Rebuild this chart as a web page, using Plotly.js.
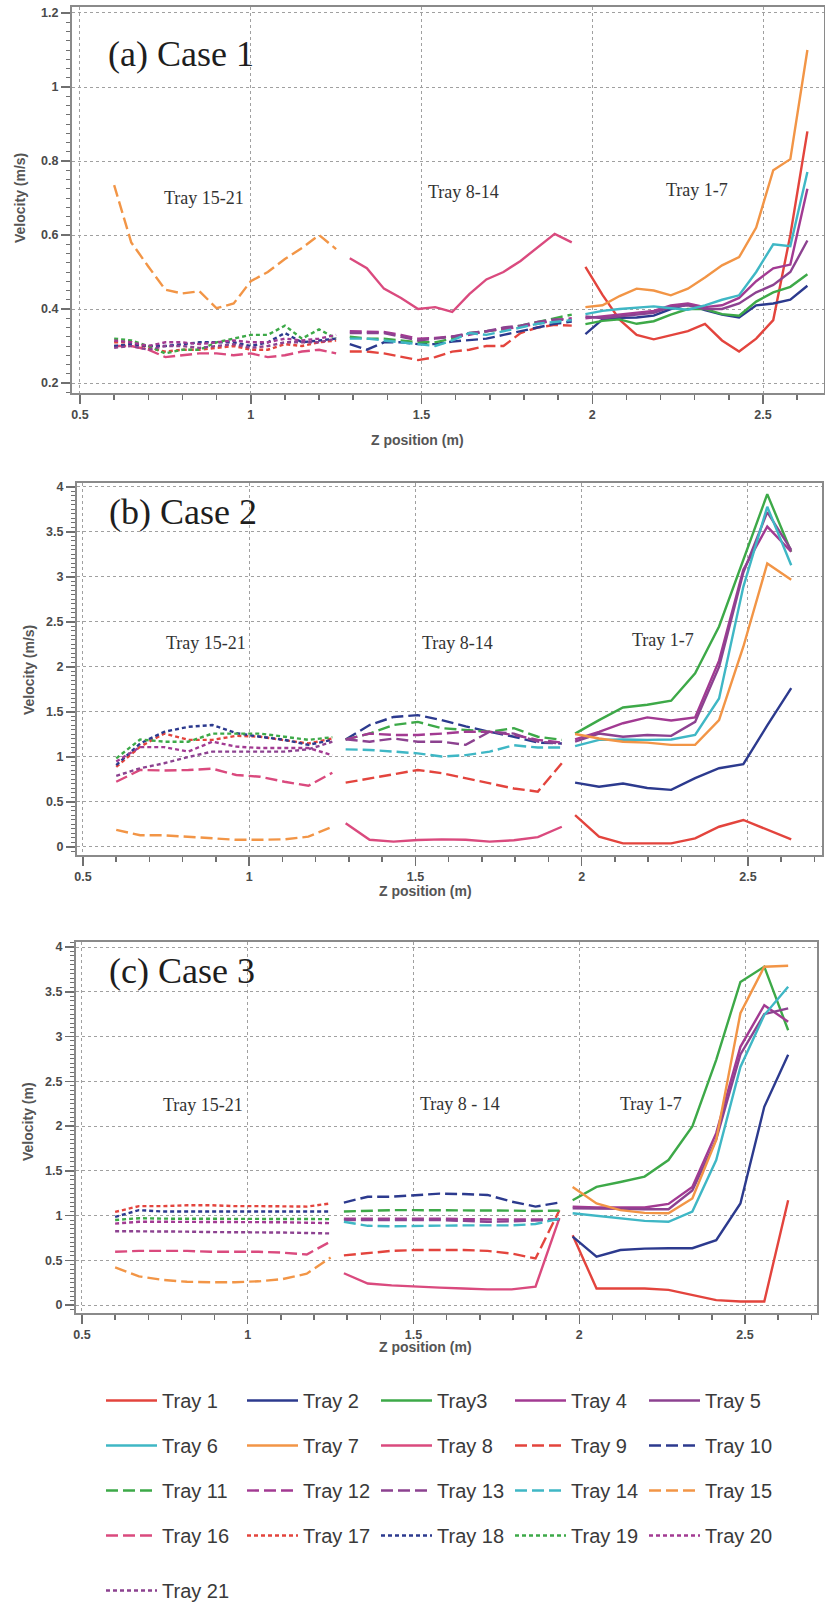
<!DOCTYPE html>
<html>
<head>
<meta charset="utf-8">
<script src="https://cdn.plot.ly/plotly-3.0.1.min.js"></script>
<style>html,body{margin:0;padding:0;background:#fff;}#chart{width:825px;height:1614px;}</style>
</head>
<body>
<div id="chart"></div>
<script>
// ---------- DATA ----------
// z positions (m) of the sampled points for each tray group
const zA1 = [0.60,0.65,0.70,0.75,0.80,0.85,0.90,0.95,1.00,1.05,1.10,1.15,1.20,1.25];
const zB1 = [1.29,1.34,1.39,1.44,1.49,1.54,1.59,1.64,1.69,1.74,1.79,1.84,1.89,1.94];
const zC1 = [1.98,2.03,2.08,2.13,2.18,2.23,2.28,2.33,2.38,2.43,2.48,2.53,2.58,2.63];
const zA = [0.60,0.672,0.744,0.817,0.889,0.961,1.033,1.106,1.178,1.25];
const zB = [1.29,1.362,1.434,1.507,1.579,1.651,1.723,1.796,1.868,1.94];
const zC = [1.98,2.052,2.124,2.197,2.269,2.341,2.413,2.486,2.558,2.63];

const trayNames = ['Tray 1','Tray 2','Tray3','Tray 4','Tray 5','Tray 6','Tray 7','Tray 8','Tray 9','Tray 10',
  'Tray 11','Tray 12','Tray 13','Tray 14','Tray 15','Tray 16','Tray 17','Tray 18','Tray 19','Tray 20','Tray 21'];

// Case 1 velocities (m/s)
const c1t1 = [0.514,0.438,0.371,0.33,0.318,0.33,0.34,0.36,0.315,0.285,0.32,0.37,0.60,0.88];
const c1t2 = [0.332,0.372,0.376,0.377,0.382,0.40,0.413,0.397,0.385,0.377,0.41,0.415,0.425,0.463];
const c1t3 = [0.359,0.368,0.372,0.36,0.367,0.385,0.40,0.40,0.386,0.382,0.42,0.445,0.46,0.494];
const c1t4 = [0.375,0.38,0.385,0.39,0.395,0.41,0.415,0.405,0.41,0.43,0.475,0.51,0.52,0.725];
const c1t5 = [0.38,0.375,0.38,0.385,0.39,0.405,0.41,0.40,0.40,0.415,0.445,0.465,0.50,0.585];
const c1t6 = [0.386,0.395,0.40,0.404,0.407,0.402,0.398,0.41,0.425,0.437,0.50,0.575,0.57,0.77];
const c1t7 = [0.405,0.41,0.435,0.455,0.45,0.437,0.455,0.485,0.518,0.54,0.62,0.775,0.805,1.10];
const c1t8 = [0.537,0.51,0.455,0.43,0.40,0.405,0.392,0.44,0.48,0.50,0.53,0.567,0.603,0.58];
const c1t9 = [0.285,0.285,0.28,0.27,0.262,0.27,0.285,0.29,0.30,0.30,0.335,0.35,0.357,0.355];
const c1t10 = [0.305,0.29,0.31,0.31,0.305,0.305,0.312,0.316,0.32,0.33,0.34,0.348,0.36,0.366];
const c1t11 = [0.325,0.32,0.32,0.315,0.31,0.31,0.32,0.335,0.34,0.345,0.355,0.365,0.375,0.385];
const c1t12 = [0.34,0.34,0.338,0.33,0.32,0.322,0.325,0.33,0.34,0.345,0.352,0.36,0.37,0.375];
const c1t13 = [0.335,0.335,0.335,0.325,0.315,0.32,0.325,0.335,0.34,0.35,0.355,0.365,0.372,0.37];
const c1t14 = [0.32,0.32,0.315,0.31,0.305,0.30,0.315,0.335,0.33,0.34,0.35,0.36,0.365,0.37];
const c1t15 = [0.735,0.58,0.515,0.452,0.442,0.448,0.402,0.415,0.475,0.50,0.535,0.565,0.60,0.562];
const c1t16 = [0.30,0.30,0.29,0.27,0.275,0.28,0.28,0.275,0.28,0.27,0.275,0.285,0.29,0.28];
const c1t17 = [0.31,0.31,0.295,0.285,0.29,0.29,0.295,0.30,0.29,0.29,0.305,0.30,0.31,0.315];
const c1t18 = [0.30,0.305,0.30,0.30,0.305,0.31,0.31,0.31,0.30,0.31,0.335,0.31,0.315,0.32];
const c1t19 = [0.32,0.315,0.30,0.28,0.29,0.29,0.31,0.32,0.33,0.33,0.355,0.32,0.345,0.32];
const c1t20 = [0.315,0.31,0.30,0.31,0.31,0.305,0.31,0.315,0.31,0.31,0.32,0.315,0.32,0.33];
const c1t21 = [0.295,0.30,0.29,0.30,0.30,0.295,0.30,0.305,0.295,0.30,0.31,0.31,0.31,0.32];

// Case 2 velocities (m/s)
const c2t1 = [0.355,0.115,0.04,0.04,0.04,0.095,0.225,0.30,0.19,0.085];
const c2t2 = [0.715,0.67,0.705,0.655,0.635,0.765,0.875,0.92,1.35,1.765];
const c2t3 = [1.26,1.41,1.55,1.58,1.625,1.93,2.45,3.2,3.92,3.28];
const c2t4 = [1.195,1.28,1.375,1.44,1.405,1.44,2.07,3.08,3.56,3.28];
const c2t5 = [1.17,1.26,1.225,1.245,1.235,1.39,2.0,3.05,3.72,3.3];
const c2t6 = [1.12,1.19,1.195,1.19,1.195,1.245,1.65,2.89,3.78,3.13];
const c2t7 = [1.255,1.205,1.17,1.16,1.135,1.135,1.41,2.225,3.15,2.97];
const c2t8 = [0.265,0.08,0.06,0.078,0.085,0.08,0.06,0.075,0.11,0.225];
const c2t9 = [0.715,0.76,0.81,0.855,0.82,0.765,0.71,0.65,0.615,0.93];
const c2t10 = [1.195,1.355,1.445,1.465,1.41,1.34,1.28,1.225,1.16,1.15];
const c2t11 = [1.195,1.26,1.355,1.39,1.32,1.30,1.28,1.32,1.225,1.19];
const c2t12 = [1.195,1.26,1.245,1.245,1.26,1.28,1.28,1.245,1.19,1.16];
const c2t13 = [1.195,1.17,1.205,1.17,1.17,1.135,1.28,1.26,1.17,1.15];
const c2t14 = [1.085,1.078,1.06,1.04,1.005,1.02,1.06,1.13,1.105,1.105];
const c2t15 = [0.19,0.13,0.13,0.115,0.10,0.08,0.08,0.085,0.115,0.225];
const c2t16 = [0.725,0.855,0.85,0.855,0.87,0.80,0.78,0.725,0.68,0.825];
const c2t17 = [0.89,1.115,1.26,1.19,1.19,1.235,1.225,1.19,1.15,1.205];
const c2t18 = [0.91,1.15,1.28,1.335,1.355,1.265,1.225,1.19,1.135,1.19];
const c2t19 = [0.985,1.195,1.17,1.17,1.26,1.26,1.26,1.225,1.19,1.22];
const c2t20 = [0.95,1.11,1.11,1.06,1.17,1.115,1.10,1.10,1.10,1.02];
const c2t21 = [0.79,0.875,0.93,1.0,1.06,1.06,1.06,1.06,1.085,1.17];

// Case 3 velocities
const c3t1 = [0.78,0.185,0.185,0.185,0.17,0.11,0.055,0.04,0.04,1.17];
const c3t2 = [0.765,0.54,0.615,0.63,0.635,0.635,0.725,1.135,2.215,2.795];
const c3t3 = [1.17,1.32,1.375,1.435,1.62,1.995,2.74,3.61,3.78,3.07];
const c3t4 = [1.10,1.09,1.09,1.09,1.13,1.32,1.92,2.885,3.35,3.165];
const c3t5 = [1.08,1.08,1.075,1.07,1.07,1.28,1.85,2.80,3.25,3.315];
const c3t6 = [1.025,0.995,0.97,0.94,0.93,1.045,1.62,2.66,3.24,3.555];
const c3t7 = [1.32,1.135,1.06,1.03,1.025,1.19,1.845,3.26,3.78,3.79];
const c3t8 = [0.355,0.24,0.22,0.205,0.195,0.185,0.175,0.175,0.205,0.97];
const c3t9 = [0.555,0.58,0.605,0.615,0.615,0.615,0.605,0.575,0.52,1.06];
const c3t10 = [1.145,1.21,1.21,1.23,1.245,1.24,1.23,1.155,1.10,1.145];
const c3t11 = [1.045,1.055,1.06,1.06,1.06,1.06,1.06,1.055,1.05,1.055];
const c3t12 = [0.965,0.965,0.965,0.97,0.965,0.96,0.955,0.955,0.955,0.96];
const c3t13 = [0.95,0.95,0.955,0.955,0.95,0.94,0.93,0.935,0.945,0.955];
const c3t14 = [0.93,0.885,0.88,0.885,0.89,0.89,0.89,0.89,0.905,0.965];
const c3t15 = [0.42,0.32,0.28,0.26,0.255,0.255,0.265,0.29,0.35,0.53];
const c3t16 = [0.595,0.605,0.605,0.605,0.595,0.595,0.595,0.585,0.565,0.71];
const c3t17 = [1.04,1.105,1.105,1.115,1.115,1.105,1.105,1.105,1.10,1.135];
const c3t18 = [0.985,1.06,1.045,1.045,1.045,1.045,1.045,1.045,1.045,1.045];
const c3t19 = [0.95,0.97,0.965,0.965,0.965,0.965,0.965,0.965,0.96,0.96];
const c3t20 = [0.91,0.93,0.93,0.93,0.925,0.925,0.925,0.925,0.92,0.915];
const c3t21 = [0.825,0.825,0.82,0.82,0.815,0.815,0.815,0.81,0.805,0.80];

// ---------- TABLES BUILT FROM THE DATA ----------
const cases = [
  [c1t1,c1t2,c1t3,c1t4,c1t5,c1t6,c1t7,c1t8,c1t9,c1t10,c1t11,c1t12,c1t13,c1t14,c1t15,c1t16,c1t17,c1t18,c1t19,c1t20,c1t21],
  [c2t1,c2t2,c2t3,c2t4,c2t5,c2t6,c2t7,c2t8,c2t9,c2t10,c2t11,c2t12,c2t13,c2t14,c2t15,c2t16,c2t17,c2t18,c2t19,c2t20,c2t21],
  [c3t1,c3t2,c3t3,c3t4,c3t5,c3t6,c3t7,c3t8,c3t9,c3t10,c3t11,c3t12,c3t13,c3t14,c3t15,c3t16,c3t17,c3t18,c3t19,c3t20,c3t21]
];
const zGrids = [[zC1,zB1,zA1],[zC,zB,zA],[zC,zB,zA]];

// ---------- STYLE ----------
const W = 825, H = 1614;
const px = v => v / W;
const py = v => 1 - v / H;
const baseColors = ['#E3443D','#2C3A8E','#3DA948','#A23A92','#8C4290','#3FB7C5','#F29546','#DA4A7E'];
function trayColor(t){ // t = 1..21
  const seq = [0,1,2,3,4,5,6,7, 0,1,2,3,4,5,6,7, 0,1,2,3,4];
  return baseColors[seq[t-1]];
}
function trayDash(t){ return t <= 8 ? 'solid' : (t <= 16 ? '12px,5px' : '4px,3px'); }

const traces = [];
cases.forEach((vals, ci) => {
  vals.forEach((y, ti) => {
    const t = ti + 1;
    const seg = t <= 7 ? 0 : (t <= 14 ? 1 : 2);
    const col = ti % 5;
    const legId = t === 21 ? 'legend6' : (col === 0 ? 'legend' : 'legend' + (col + 1));
    traces.push({
      type: 'scatter', mode: 'lines',
      x: zGrids[ci][seg], y: y,
      name: trayNames[ti],
      legendgroup: trayNames[ti],
      xaxis: ci === 0 ? 'x' : 'x' + (ci + 1),
      yaxis: ci === 0 ? 'y' : 'y' + (ci + 1),
      line: {color: trayColor(t), width: 2.4, dash: trayDash(t)},
      showlegend: ci === 0,
      legend: legId,
      hoverinfo: 'x+y+name'
    });
  });
});

const tickFont = {family: 'Liberation Sans, Arial, sans-serif', size: 12.5, color: '#4a4a4a', weight: 'bold'};
function xAxis(dom, rng, anchor){
  return {domain: [px(dom[0]), px(dom[1])], range: rng, anchor: anchor,
    tick0: 0.5, dtick: 0.5, ticks: 'outside', ticklen: 9, tickwidth: 1.5, tickcolor: '#707070',
    minor: {dtick: 0.1, ticks: 'outside', ticklen: 5, tickwidth: 1.5, tickcolor: '#707070', showgrid: false},
    showgrid: true, gridcolor: '#a0a0a0', griddash: 'dot', gridwidth: 1,
    showline: true, linecolor: '#8a8a8a', linewidth: 2, mirror: true,
    zeroline: false, tickfont: tickFont, fixedrange: true};
}
function yAxis(dom, rng, anchor, t0, dt, mdt){
  return {domain: [py(dom[1]), py(dom[0])], range: rng, anchor: anchor,
    tick0: t0, dtick: dt, ticks: 'outside', ticklen: 9, tickwidth: 1.5, tickcolor: '#707070',
    minor: {dtick: mdt, ticks: 'outside', ticklen: 4, tickwidth: 1, tickcolor: '#707070', showgrid: false},
    showgrid: true, gridcolor: '#a0a0a0', griddash: 'dot', gridwidth: 1,
    showline: true, linecolor: '#8a8a8a', linewidth: 2, mirror: true,
    zeroline: false, tickfont: tickFont, fixedrange: true};
}

const serif = 'Liberation Serif, Times New Roman, serif';
const sans = 'Liberation Sans, Arial, sans-serif';
function ann(text, x, y, font, extra){
  return Object.assign({text: text, x: px(x), y: py(y), xref: 'paper', yref: 'paper',
    xanchor: 'center', yanchor: 'middle', showarrow: false, font: font}, extra || {});
}
const caseFont = {family: serif, size: 36, color: '#1e1e1e'};
const groupFont = {family: serif, size: 18, color: '#333333'};
const axFont = {family: sans, size: 14, color: '#555555', weight: 'bold'};

const annotations = [
  ann('(a) Case 1', 181, 54, caseFont),
  ann('(b) Case 2', 183, 512, caseFont),
  ann('(c) Case 3', 182, 971, caseFont),
  ann('Tray 15-21', 204, 198, groupFont),
  ann('Tray 8-14', 464, 192, groupFont),
  ann('Tray 1-7', 697, 190, groupFont),
  ann('Tray 15-21', 206, 643, groupFont),
  ann('Tray 8-14', 457, 643, groupFont),
  ann('Tray 1-7', 663, 640, groupFont),
  ann('Tray 15-21', 203, 1105, groupFont),
  ann('Tray 8 - 14', 460, 1104, groupFont),
  ann('Tray 1-7', 651, 1104, groupFont),
  ann('Velocity (m/s)', 20, 198, axFont, {textangle: -90}),
  ann('Velocity (m/s)', 29, 670, axFont, {textangle: -90}),
  ann('Velocity (m)', 28, 1122, axFont, {textangle: -90}),
  ann('Z position (m)', 417, 440, axFont),
  ann('Z position (m)', 425, 891, axFont),
  ann('Z position (m)', 425, 1347, axFont)
];

// one vertical legend per legend column (Tray 21 on its own last row)
const legFont = {family: 'Liberation Sans, Arial, sans-serif', size: 20, color: '#3a3a3a'};
function leg(x, top){
  return {orientation: 'v', x: px(x), y: py(top), xanchor: 'left', yanchor: 'top',
    itemwidth: 51, font: legFont, tracegroupgap: 16,
    bgcolor: 'rgba(0,0,0,0)', borderwidth: 0, traceorder: 'grouped', itemclick: false, itemdoubleclick: false};
}

const layout = {
  width: W, height: H,
  margin: {l: 0, r: 0, t: 0, b: 0},
  paper_bgcolor: '#ffffff', plot_bgcolor: '#ffffff',
  showlegend: true,
  xaxis: xAxis([72, 824], [0.4766, 2.6786], 'y'),
  yaxis: yAxis([7, 393], [0.173, 1.2162], 'x', 0.2, 0.2, 0.025),
  xaxis2: xAxis([77, 822], [0.482, 2.7226], 'y2'),
  yaxis2: yAxis([483, 855], [-0.089, 4.044], 'x2', 0, 0.5, 0.05),
  xaxis3: xAxis([76, 817], [0.482, 2.717], 'y3'),
  yaxis3: yAxis([942, 1313], [-0.089, 4.056], 'x3', 0, 0.5, 0.05),
  legend: leg(101, 1381),
  legend2: leg(242, 1381),
  legend3: leg(376, 1381),
  legend4: leg(510, 1381),
  legend5: leg(644, 1381),
  legend6: leg(101, 1571),
  annotations: annotations
};

Plotly.newPlot('chart', traces, layout, {staticPlot: true, displayModeBar: false});
</script>
</body>
</html>
